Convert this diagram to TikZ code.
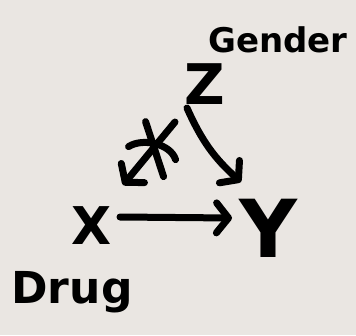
\documentclass[tikz,border=0pt]{standalone}
\usepackage{fontspec}
\setmainfont{DejaVu Sans}
\usetikzlibrary{arrows.meta,calc}
\definecolor{paper}{HTML}{EAE6E2}
\tikzset{
  hand/.style={text=black, inner sep=0pt, font=\bfseries},
  pen/.style={line width=7pt, line cap=round, line join=round, draw=black},
  arr/.style={pen, -{Straight Barb[length=12pt,width=30pt,line width=7pt,round]}},
}
\begin{document}
\begin{tikzpicture}[x=1pt,y=-1pt]
\fill[paper] (0,0) rectangle (356,335);
\useasboundingbox (0,0) rectangle (356,335);
\node[hand, font=\bfseries\fontsize{34}{34}\selectfont] (gender) at (278,40) {Gender};
\node[hand, font=\bfseries\fontsize{56}{56}\selectfont] (z) at (205,84) {Z};
\node[hand, font=\bfseries\fontsize{52}{52}\selectfont] (x) at (92,226) {X};
\node[hand, font=\bfseries\fontsize{80}{80}\selectfont] (y) at (268,228) {Y};
\node[hand, font=\bfseries\fontsize{44}{44}\selectfont] (drug) at (72,292) {Drug};
% edges
\draw[arr] ($(z)+(-30,38)$) coordinate (zs) -- ($(x)+(31,-41)$) coordinate (xe);
\draw[arr] ($(z)+(-18,24)$) to[bend right=12] ($(y)+(-27,-46)$);
\draw[arr] ($(x)+(28,-9)$) -- ($(y)+(-36,-10)$);
% cross-out mark on Z -> X
\path (zs) -- (xe) coordinate[pos=0.47] (m);
\draw[pen] ($(m)+(-5,-30)$) -- ($(m)+(13,25)$);
\draw[pen] ($(m)+(-22,-5)$) .. controls ($(m)+(-8,-14)$) and ($(m)+(20,-8)$) .. ($(m)+(25,8)$);
\end{tikzpicture}
\end{document}
